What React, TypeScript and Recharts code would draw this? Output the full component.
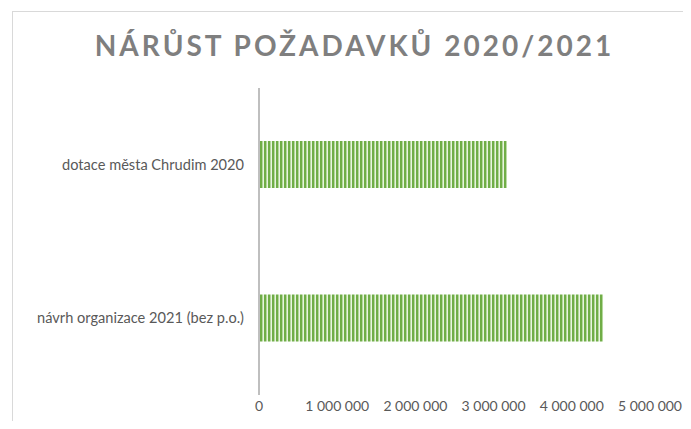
import React from 'react';
import { BarChart, Bar, XAxis, YAxis } from 'recharts';

const categories = ['dotace města Chrudim 2020', 'návrh organizace 2021 (bez p.o.)'];
const values = [3170000, 4400000];
const xTicks = [0, 1000000, 2000000, 3000000, 4000000, 5000000];

const data = categories.map((name, i) => ({ name, value: values[i] }));

const fmt = (v: number) => v.toLocaleString('en-US').replace(/,/g, ' ');

const FONT = 'Lato, "Open Sans", sans-serif';

export default function App() {
    return (
        <div style={{ position: 'relative', width: 691, height: 429, margin: -8, background: '#fff', overflow: 'hidden' }}>
            <div
                style={{
                    position: 'absolute',
                    left: 12,
                    top: 11,
                    width: 700,
                    height: 440,
                    borderLeft: '1px solid #d9d9d9',
                    borderTop: '1px solid #d9d9d9',
                }}
            />
            <div
                style={{
                    position: 'absolute',
                    left: 0,
                    top: 28,
                    width: 709,
                    textAlign: 'center',
                    fontFamily: FONT,
                    fontWeight: 700,
                    fontSize: 28,
                    letterSpacing: 3,
                    color: '#7f7f7f',
                    lineHeight: '34px',
                }}
            >
                NÁRŮST POŽADAVKŮ 2020/2021
            </div>
            <div style={{ position: 'absolute', left: 0, top: 0 }}>
                <BarChart
                    width={691}
                    height={429}
                    data={data}
                    layout="vertical"
                    margin={{ top: 88, right: 41, left: 12, bottom: 4 }}
                >
                    <defs>
                        <pattern id="stripes" width="4" height="4" patternUnits="userSpaceOnUse">
                            <rect x="0" y="0" width="4" height="4" fill="#b4d89c" />
                            <rect x="0" y="0" width="2" height="4" fill="#70ad47" />
                            <rect x="3" y="0" width="1" height="4" fill="#e8f3e0" />
                        </pattern>
                    </defs>
                    <XAxis
                        type="number"
                        domain={[0, 5000000]}
                        ticks={xTicks}
                        tickFormatter={fmt}
                        axisLine={false}
                        tickLine={false}
                        tickSize={0}
                        tickMargin={6}
                        height={30}
                        interval={0}
                        tick={{ fontSize: 14, fill: '#595959', fontFamily: FONT }}
                    />
                    <YAxis
                        type="category"
                        dataKey="name"
                        width={247}
                        axisLine={{ stroke: '#bfbfbf', strokeWidth: 2 }}
                        tickLine={false}
                        tickSize={0}
                        tickMargin={15}
                        tick={{ fontSize: 14.6, fill: '#595959', fontFamily: FONT }}
                    />
                    <Bar dataKey="value" fill="url(#stripes)" barSize={47} isAnimationActive={false} />
                </BarChart>
            </div>
        </div>
    );
}
